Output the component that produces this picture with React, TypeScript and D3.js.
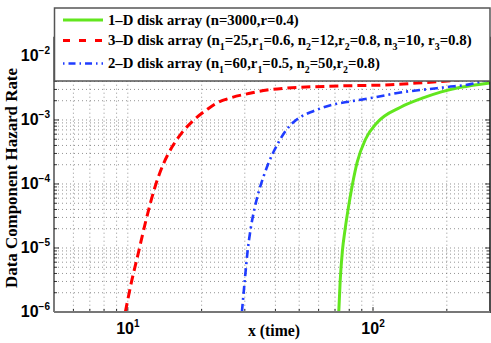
import React, { useLayoutEffect, useRef, useState } from "react";
import * as d3 from "d3";

// ---- data ----
const greenX = [72.5, 73.5, 75.0, 77.0, 79.5, 82.5, 86.2, 93.2, 104, 129.5, 158.9, 190, 227.6, 300];
const greenY = [1e-6, 3.16e-6, 8.9e-6, 2.0e-5, 4.47e-5, 1.0e-4, 2.19e-4, 5.0e-4, 9.1e-4, 1.58e-3, 2.19e-3, 2.75e-3, 3.24e-3, 3.8e-3];

const redX = [9.77, 10.4, 11.0, 11.8, 12.9, 14.0, 15.1, 16.6, 18.6, 21.0, 23.1, 26.2, 31.1, 37.0, 44.6, 73.6, 117.8, 160.7, 201, 300];
const redY = [1e-6, 3.2e-6, 7.9e-6, 2.5e-5, 8.9e-5, 2.1e-4, 3.7e-4, 6.3e-4, 1.0e-3, 1.45e-3, 1.85e-3, 2.21e-3, 2.59e-3, 2.94e-3, 3.15e-3, 3.4e-3, 3.55e-3, 3.83e-3, 4.07e-3, 5.0e-3];

const blueX = [29.2, 30.0, 30.8, 31.7, 32.8, 34.2, 35.8, 37.6, 39.4, 41.3, 44.0, 47.5, 51.4, 57.3, 67.1, 80.9, 100.7, 129.4, 166.3, 200.9, 250, 300];
const blueY = [1e-6, 3.16e-6, 8.9e-6, 2.0e-5, 3.98e-5, 7.6e-5, 1.32e-4, 2.19e-4, 3.24e-4, 4.57e-4, 6.76e-4, 9.3e-4, 1.15e-3, 1.38e-3, 1.7e-3, 1.95e-3, 2.24e-3, 2.69e-3, 3.02e-3, 3.27e-3, 3.63e-3, 4.37e-3];

const xMajorTicks = [10, 100];
const xTickExps = ["1", "2"];
const yMajorTicks = [1e-6, 1e-5, 1e-4, 1e-3, 1e-2];
const yTickExps = ["\u22126", "\u22125", "\u22124", "\u22123", "\u22122"];
const xDomain = [5, 300];
const yDomain = [1e-6, 2e-2];

const xLabel = "x (time)";
const yLabel = "Data Component Hazard Rate";

const W = 491, H = 343;
const L = 54, R = 490, T = 36.7, B = 312;

const serifStyle = { fontFamily: "'Liberation Serif', 'Times New Roman', serif", fontWeight: 700 } as const;
const sansStyle = { fontFamily: "'Liberation Sans', Arial, sans-serif", fontWeight: 700 } as const;

// target rendered widths (px): legend lines 1-3, y label, x label
const TARGETS = [191, 364, 272, 220, 52];

export default function App() {
  const refs = useRef<(SVGTextElement | null)[]>([]);
  const [scales, setScales] = useState<number[]>([1, 1, 1, 1, 1]);
  useLayoutEffect(() => {
    const s = TARGETS.map((t, i) => {
      const el = refs.current[i];
      if (!el) return 1;
      const w = el.getBBox().width;
      return w > 0 ? t / w : 1;
    });
    setScales(s);
  }, []);

  const x = d3.scaleLog().domain(xDomain).range([L, R]);
  const y = d3.scaleLog().domain(yDomain).range([B, T]);

  const xGrid: number[] = [];
  for (let e = 0; e <= 2; e++) for (let m = 1; m <= 9; m++) {
    const v = m * Math.pow(10, e);
    if (v > xDomain[0] && v < xDomain[1]) xGrid.push(v);
  }
  const yGrid: number[] = [];
  for (let e = -6; e <= -2; e++) for (let m = 1; m <= 9; m++) {
    const v = m * Math.pow(10, e);
    if (v >= yDomain[0] * 0.999 && v <= yDomain[1]) yGrid.push(v);
  }

  const line = d3.line<[number, number]>()
    .x((d) => x(d[0]))
    .y((d) => y(d[1]))
    .curve(d3.curveMonotoneX);

  const mk = (xs: number[], ys: number[]) => line(xs.map((v, i) => [v, ys[i]] as [number, number])) || "";

  const isMajor = (v: number) => Math.abs(Math.log10(v) - Math.round(Math.log10(v))) < 1e-6;
  const sx = (x0: number, k: number) => `translate(${x0},0) scale(${k},1) translate(${-x0},0)`;

  return (
    <svg width={W} height={H} style={{ position: "absolute", left: 0, top: 0, background: "#fff" }}>
      <defs>
        <clipPath id="plot">
          <rect x={L} y={T} width={R - L} height={B - T} />
        </clipPath>
      </defs>
      <rect x={0} y={0} width={W} height={H} fill="#fff" />
      {/* grid */}
      <g stroke="#333" strokeWidth={0.7} strokeDasharray="1 3" opacity={0.75}>
        {xGrid.map((v) => (
          <line key={"gx" + v} x1={x(v)} x2={x(v)} y1={T} y2={B} />
        ))}
        {yGrid.map((v) => (
          <line key={"gy" + v} x1={L} x2={R} y1={y(v)} y2={y(v)} />
        ))}
      </g>
      {/* ticks */}
      <g stroke="#000" strokeWidth={0.8}>
        {yGrid.map((v) => {
          const len = isMajor(v) ? 5 : 3;
          return (
            <g key={"ty" + v}>
              <line x1={L} x2={L + len} y1={y(v)} y2={y(v)} />
              <line x1={R} x2={R - len} y1={y(v)} y2={y(v)} />
            </g>
          );
        })}
        {xGrid.map((v) => {
          const len = isMajor(v) ? 5 : 3;
          return <line key={"tx" + v} x1={x(v)} x2={x(v)} y1={B} y2={B - len} />;
        })}
      </g>
      {/* curves */}
      <g clipPath="url(#plot)" fill="none">
        <path d={mk(greenX, greenY)} stroke="#62e61e" strokeWidth={3} />
        <path d={mk(redX, redY)} stroke="#ff0000" strokeWidth={3} strokeDasharray="9 5" />
        <path d={mk(blueX, blueY)} stroke="#1f3cff" strokeWidth={2.6} strokeDasharray="8 4 2 4" />
      </g>
      {/* axes box */}
      <line x1={L} x2={L} y1={T} y2={B} stroke="#222" strokeWidth={1.2} />
      <line x1={R} x2={R} y1={T} y2={B + 1} stroke="#111" strokeWidth={1.5} />
      <line x1={L} x2={R} y1={B} y2={B} stroke="#777" strokeWidth={2} />
      <line x1={L} x2={R} y1={T} y2={T} stroke="#555" strokeWidth={1.5} />
      {/* y tick labels */}
      {yMajorTicks.map((v, i) => (
        <text key={"yl" + v} x={50} y={y(v) + 5} textAnchor="end" style={sansStyle} fontSize={16} fill="#000">
          10
          <tspan fontSize={10} dy={-7}>{yTickExps[i]}</tspan>
        </text>
      ))}
      {/* x tick labels */}
      {xMajorTicks.map((v, i) => (
        <text key={"xl" + v} x={x(v)} y={334} textAnchor="middle" style={sansStyle} fontSize={16} fill="#000">
          10
          <tspan fontSize={10} dy={-7}>{xTickExps[i]}</tspan>
        </text>
      ))}
      {/* axis labels */}
      <text ref={(el) => { refs.current[4] = el; }} x={274} y={336} textAnchor="middle" style={serifStyle} fontSize={16} fill="#000" transform={sx(274, scales[4])}>
        {xLabel}
      </text>
      <g transform="translate(17,178) rotate(-90)">
        <text ref={(el) => { refs.current[3] = el; }} x={0} y={0} textAnchor="middle" style={serifStyle} fontSize={16.5} fill="#000" transform={`scale(${scales[3]},1)`}>
          {yLabel}
        </text>
      </g>
      {/* legend */}
      <g>
        <rect x={54.5} y={8} width={435.5} height={73} fill="#fff" stroke="#555" strokeWidth={1.5} />
        <line x1={63} x2={103} y1={20} y2={20} stroke="#62e61e" strokeWidth={3} />
        <line x1={63} x2={103} y1={40.5} y2={40.5} stroke="#ff0000" strokeWidth={3} strokeDasharray="7 9" />
        <line x1={63} x2={103} y1={63.5} y2={63.5} stroke="#1f3cff" strokeWidth={2.6} strokeDasharray="0.01 0 1.5 4 7 4" />
        <text ref={(el) => { refs.current[0] = el; }} x={108} y={25} style={serifStyle} fontSize={15} fill="#000" transform={sx(108, scales[0])}>
          1–D disk array (n=3000,r=0.4)
        </text>
        <text ref={(el) => { refs.current[1] = el; }} x={108} y={45} style={serifStyle} fontSize={15} fill="#000" transform={sx(108, scales[1])}>
          3–D disk array (n<tspan fontSize={10} dy={5}>1</tspan>
          <tspan dy={-5}>=25,r</tspan><tspan fontSize={10} dy={5}>1</tspan>
          <tspan dy={-5}>=0.6, n</tspan><tspan fontSize={10} dy={5}>2</tspan>
          <tspan dy={-5}>=12,r</tspan><tspan fontSize={10} dy={5}>2</tspan>
          <tspan dy={-5}>=0.8, n</tspan><tspan fontSize={10} dy={5}>3</tspan>
          <tspan dy={-5}>=10, r</tspan><tspan fontSize={10} dy={5}>3</tspan>
          <tspan dy={-5}>=0.8)</tspan>
        </text>
        <text ref={(el) => { refs.current[2] = el; }} x={108} y={68} style={serifStyle} fontSize={15} fill="#000" transform={sx(108, scales[2])}>
          2–D disk array (n<tspan fontSize={10} dy={5}>1</tspan>
          <tspan dy={-5}>=60,r</tspan><tspan fontSize={10} dy={5}>1</tspan>
          <tspan dy={-5}>=0.5, n</tspan><tspan fontSize={10} dy={5}>2</tspan>
          <tspan dy={-5}>=50,r</tspan><tspan fontSize={10} dy={5}>2</tspan>
          <tspan dy={-5}>=0.8)</tspan>
        </text>
      </g>
    </svg>
  );
}
